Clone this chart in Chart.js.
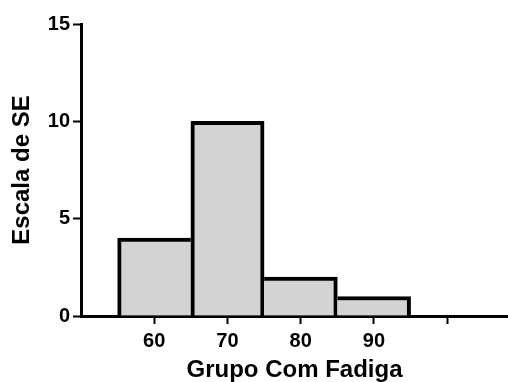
<!DOCTYPE html>
<html>
<head>
<meta charset="utf-8">
<script src="https://cdn.jsdelivr.net/npm/chart.js@4"></script>
<style>
    html, body { margin: 0; padding: 0; background: #fff; overflow: hidden; }
    #wrap { width: 508px; height: 382px; }
</style>
</head>
<body>
<div id="wrap"><canvas id="chart" width="508" height="382"></canvas></div>
<script>
const binCenters = [60, 70, 80, 90];
const counts = [4, 10, 2, 1];
const xTicks = [60, 70, 80, 90, 100];
const xLabelled = [60, 70, 80, 90];
const yTicks = [0, 5, 10, 15];

const xTitle = 'Grupo Com Fadiga';
const yTitle = 'Escala de SE';

const fontFamily = "'Liberation Sans', Arial, sans-serif";
const bw = 4;

// the taller bar of each pair draws the shared edge, so it is not doubled
function barBorder(ctx) {
    const i = ctx.dataIndex;
    const v = counts[i];
    const left = (i === 0 || v >= counts[i - 1]) ? bw : 0;
    const right = (i === counts.length - 1 || v > counts[i + 1]) ? bw : 0;
    return { top: bw, left: left, right: right, bottom: 0 };
}

const data = {
    datasets: [{
        data: binCenters.map((x, i) => ({ x: x, y: counts[i] })),
        backgroundColor: '#d3d3d3',
        borderColor: '#000',
        borderWidth: barBorder,
        borderSkipped: false,
        barPercentage: 1,
        categoryPercentage: 1
    }]
};

const config = {
    type: 'bar',
    data: data,
    options: {
        responsive: false,
        animation: false,
        layout: { padding: { top: 24, right: 0, bottom: 0, left: 0 } },
        plugins: {
            legend: { display: false },
            tooltip: { enabled: false }
        },
        scales: {
            x: {
                type: 'linear',
                min: 50,
                max: 108.3,
                offset: false,
                afterBuildTicks: (scale) => {
                    scale.ticks = xTicks.map(v => ({ value: v }));
                },
                afterFit: (scale) => { scale.height = 66; },
                ticks: {
                    autoSkip: false,
                    maxRotation: 0,
                    padding: 5,
                    color: '#000',
                    font: { family: fontFamily, size: 20, weight: 'bold' },
                    callback: (v) => xLabelled.includes(v) ? String(v) : ''
                },
                grid: {
                    offset: false,
                    drawOnChartArea: false,
                    drawTicks: true,
                    tickLength: 8,
                    tickWidth: 2,
                    tickColor: '#000'
                },
                border: { display: true, color: '#000', width: 3 },
                title: {
                    display: true,
                    text: xTitle,
                    color: '#000',
                    font: { family: fontFamily, size: 24, weight: 'bold' },
                    padding: { top: -3, bottom: -3 }
                }
            },
            y: {
                min: 0,
                max: 15,
                afterBuildTicks: (scale) => {
                    scale.ticks = yTicks.map(v => ({ value: v }));
                },
                afterFit: (scale) => { scale.width = 81; },
                ticks: {
                    padding: 3,
                    color: '#000',
                    font: { family: fontFamily, size: 20, weight: 'bold' }
                },
                grid: {
                    drawOnChartArea: false,
                    drawTicks: true,
                    tickLength: 8,
                    tickWidth: 2,
                    tickColor: '#000'
                },
                border: { display: true, color: '#000', width: 3 },
                title: {
                    display: true,
                    text: yTitle,
                    color: '#000',
                    font: { family: fontFamily, size: 24, weight: 'bold' },
                    padding: { top: 8, bottom: 0 }
                }
            }
        }
    }
};

new Chart(document.getElementById('chart'), config);
</script>
</body>
</html>
